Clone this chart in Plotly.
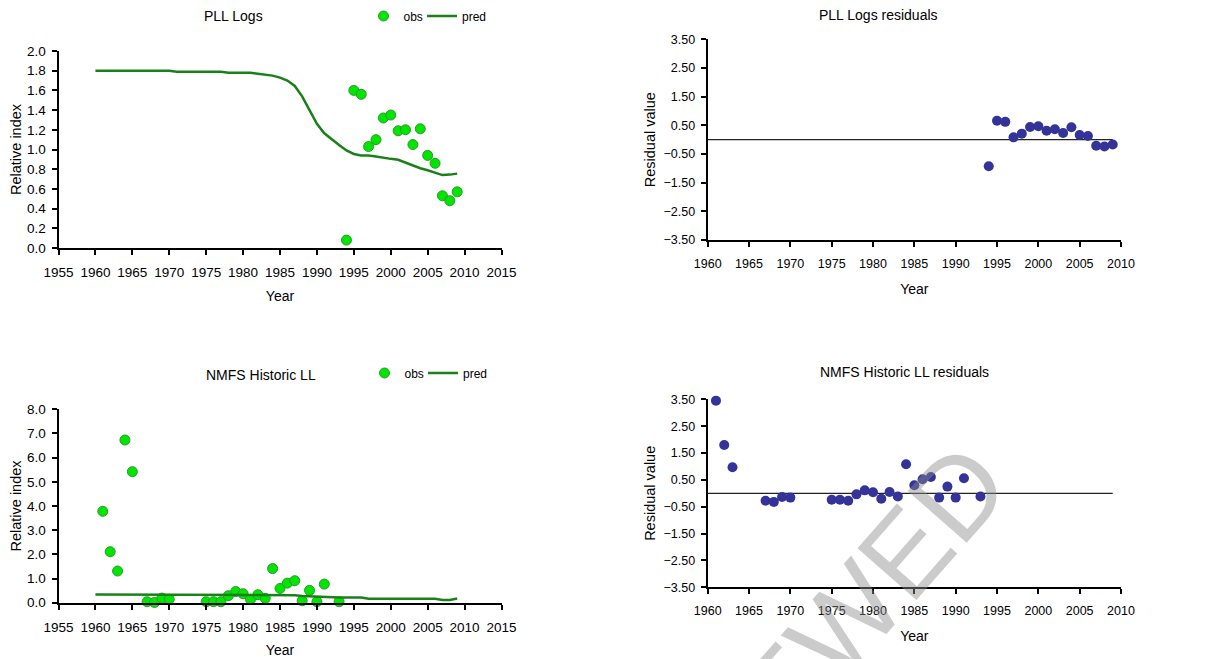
import plotly.graph_objects as go

# ---- data ----
years_all = list(range(1960, 2010))

pll_obs_years = list(range(1994, 2010))
pll_obs = [0.08, 1.60, 1.56, 1.03, 1.10, 1.32, 1.35, 1.19, 1.20, 1.05, 1.21, 0.94, 0.86, 0.53, 0.48, 0.57]
pll_pred = [1.80, 1.80, 1.80, 1.80, 1.80, 1.80, 1.80, 1.80, 1.80, 1.80,
            1.80, 1.79, 1.79, 1.79, 1.79, 1.79, 1.79, 1.79, 1.78, 1.78,
            1.78, 1.78, 1.77, 1.76, 1.75, 1.73, 1.70, 1.645, 1.54, 1.40,
            1.26, 1.165, 1.10, 1.045, 0.99, 0.955, 0.94, 0.94, 0.93, 0.915,
            0.905, 0.895, 0.865, 0.835, 0.81, 0.79, 0.765, 0.74, 0.745, 0.755]
pll_resid = [-0.93, 0.66, 0.62, 0.08, 0.21, 0.44, 0.47, 0.31, 0.36, 0.23, 0.43, 0.16, 0.13, -0.21, -0.24, -0.17]

nmfs_years = [1961, 1962, 1963, 1964, 1965, 1967, 1968, 1969, 1970, 1975, 1976, 1977, 1978,
              1979, 1980, 1981, 1982, 1983, 1984, 1985, 1986, 1987, 1988, 1989, 1990, 1991, 1993]
nmfs_obs = [3.78, 2.11, 1.31, 6.73, 5.42, 0.04, 0.01, 0.19, 0.14, 0.04, 0.04, 0.04, 0.29,
            0.46, 0.37, 0.14, 0.33, 0.18, 1.41, 0.59, 0.81, 0.91, 0.08, 0.51, 0.04, 0.77, 0.04]
nmfs_pred = [0.34, 0.34, 0.34, 0.34, 0.34, 0.34, 0.34, 0.34, 0.34, 0.34,
             0.34, 0.34, 0.34, 0.34, 0.34, 0.34, 0.34, 0.34, 0.34, 0.34,
             0.34, 0.34, 0.34, 0.34, 0.34, 0.34, 0.33, 0.31, 0.28, 0.26,
             0.25, 0.25, 0.22, 0.21, 0.21, 0.21, 0.21, 0.165, 0.165, 0.165,
             0.165, 0.165, 0.165, 0.165, 0.165, 0.165, 0.165, 0.115, 0.115, 0.17]
nmfs_resid_years = [1961, 1962, 1963, 1967, 1968, 1969, 1970, 1975, 1976, 1977, 1978, 1979, 1980,
                    1981, 1982, 1983, 1984, 1985, 1986, 1987, 1988, 1989, 1990, 1991, 1993]
nmfs_resid = [3.45, 1.80, 0.97, -0.28, -0.32, -0.14, -0.16, -0.24, -0.24, -0.28, -0.04, 0.11, 0.04,
              -0.20, 0.05, -0.12, 1.08, 0.30, 0.52, 0.61, -0.16, 0.25, -0.16, 0.56, -0.12]

FONT = "Arial, Liberation Sans, sans-serif"
W, H = 1230, 659
OFF = 8  # page body margin
obs_marker = dict(size=10, color="#00e600", line=dict(color="#2a9a2a", width=1))
resid_marker = dict(size=10, color="#333399")
pred_line = dict(color="#1a801a", width=2.5)


def px_x(p):
    return (p - OFF) / W


def px_y(p):
    return 1 - (p - OFF) / H


fig = go.Figure()

# top-left
fig.add_trace(go.Scatter(x=pll_obs_years, y=pll_obs, mode="markers", marker=obs_marker,
                         name="obs", xaxis="x", yaxis="y", legend="legend", cliponaxis=False))
fig.add_trace(go.Scatter(x=years_all, y=pll_pred, mode="lines", line=pred_line,
                         name="pred", xaxis="x", yaxis="y", legend="legend2"))
# top-right
fig.add_trace(go.Scatter(x=[years_all[0], years_all[-1]], y=[0, 0], mode="lines",
                         line=dict(color="#222", width=1.2), showlegend=False, xaxis="x2", yaxis="y2"))
fig.add_trace(go.Scatter(x=pll_obs_years, y=pll_resid, mode="markers", marker=resid_marker,
                         showlegend=False, xaxis="x2", yaxis="y2", cliponaxis=False))
# bottom-left
fig.add_trace(go.Scatter(x=nmfs_years, y=nmfs_obs, mode="markers", marker=obs_marker,
                         name="obs", xaxis="x3", yaxis="y3", legend="legend3", cliponaxis=False))
fig.add_trace(go.Scatter(x=years_all, y=nmfs_pred, mode="lines", line=pred_line,
                         name="pred", xaxis="x3", yaxis="y3", legend="legend4"))
# bottom-right
fig.add_trace(go.Scatter(x=[years_all[0], years_all[-1]], y=[0, 0], mode="lines",
                         line=dict(color="#222", width=1.2), showlegend=False, xaxis="x4", yaxis="y4"))
fig.add_trace(go.Scatter(x=nmfs_resid_years, y=nmfs_resid, mode="markers", marker=resid_marker,
                         showlegend=False, xaxis="x4", yaxis="y4", cliponaxis=False))

axis_common = dict(showline=True, linecolor="black", linewidth=2, ticks="outside", ticklen=5,
                   tickwidth=1.5, tickcolor="black", showgrid=False, zeroline=False,
                   automargin=False)


def xax(domain, rng, anchor, fs, stand):
    return dict(axis_common, domain=domain, range=rng, dtick=5, tick0=rng[0], anchor=anchor,
                ticklabelstandoff=6, tickfont=dict(size=fs, color="black"),
                title=dict(text="Year", font=dict(size=14, color="black"), standoff=stand))


def yax(domain, rng, dtick, fmt, anchor, title, fs):
    return dict(axis_common, domain=domain, range=rng, dtick=dtick, tick0=rng[0], tickformat=fmt,
                anchor=anchor, ticklabelstandoff=3, tickfont=dict(size=fs, color="black"),
                title=dict(text=title, font=dict(size=14.5, color="black"), standoff=4))


def leg(x, y):
    return dict(orientation="h", x=px_x(x), y=px_y(y), xanchor="left", yanchor="middle",
                font=dict(size=12), bgcolor="rgba(0,0,0,0)", itemwidth=30)


fig.update_layout(
    width=W, height=H,
    margin=dict(l=0, r=0, t=0, b=0, autoexpand=False),
    paper_bgcolor="white", plot_bgcolor="white",
    font=dict(family=FONT, color="black"),
    xaxis=xax([px_x(58.5), px_x(501.5)], [1955, 2015], "y", 13.5, 12),
    yaxis=yax([px_y(248), px_y(51)], [0, 2], 0.2, ".1f", "x", "Relative index", 13.5),
    xaxis2=xax([px_x(707.7), px_x(1121)], [1960, 2010], "y2", 12.5, 14),
    yaxis2=yax([px_y(240), px_y(39.3)], [-3.5, 3.5], 1, ".2f", "x2", "Residual value", 12.5),
    xaxis3=xax([px_x(58.5), px_x(501.5)], [1955, 2015], "y3", 13.5, 11),
    yaxis3=yax([px_y(602.7), px_y(409.3)], [0, 8], 1, ".1f", "x3", "Relative index", 13.5),
    xaxis4=xax([px_x(707.7), px_x(1121)], [1960, 2010], "y4", 12.5, 14),
    yaxis4=yax([px_y(587.3), px_y(399.3)], [-3.5, 3.5], 1, ".2f", "x4", "Residual value", 12.5),
    legend=leg(363.5, 16),
    legend2=leg(422, 16),
    legend3=leg(364.5, 373),
    legend4=leg(423, 373),
    showlegend=True,
)

titles = [("PLL Logs", 233, 16), ("PLL Logs residuals", 878, 15.5),
          ("NMFS Historic LL", 261, 375), ("NMFS Historic LL residuals", 904, 372)]
for txt, cx, cy in titles:
    fig.add_annotation(text=txt, x=px_x(cx), y=px_y(cy), xref="paper", yref="paper",
                       showarrow=False, xanchor="center", yanchor="middle",
                       font=dict(size=14, color="black"))

# watermark
fig.add_annotation(text="REVIEWED", x=px_x(784), y=px_y(690), xref="paper", yref="paper",
                   showarrow=False, xanchor="center", yanchor="middle", textangle=-48.7,
                   font=dict(size=114, color="rgba(140,140,140,0.45)"))

fig.write_html("out.html")
